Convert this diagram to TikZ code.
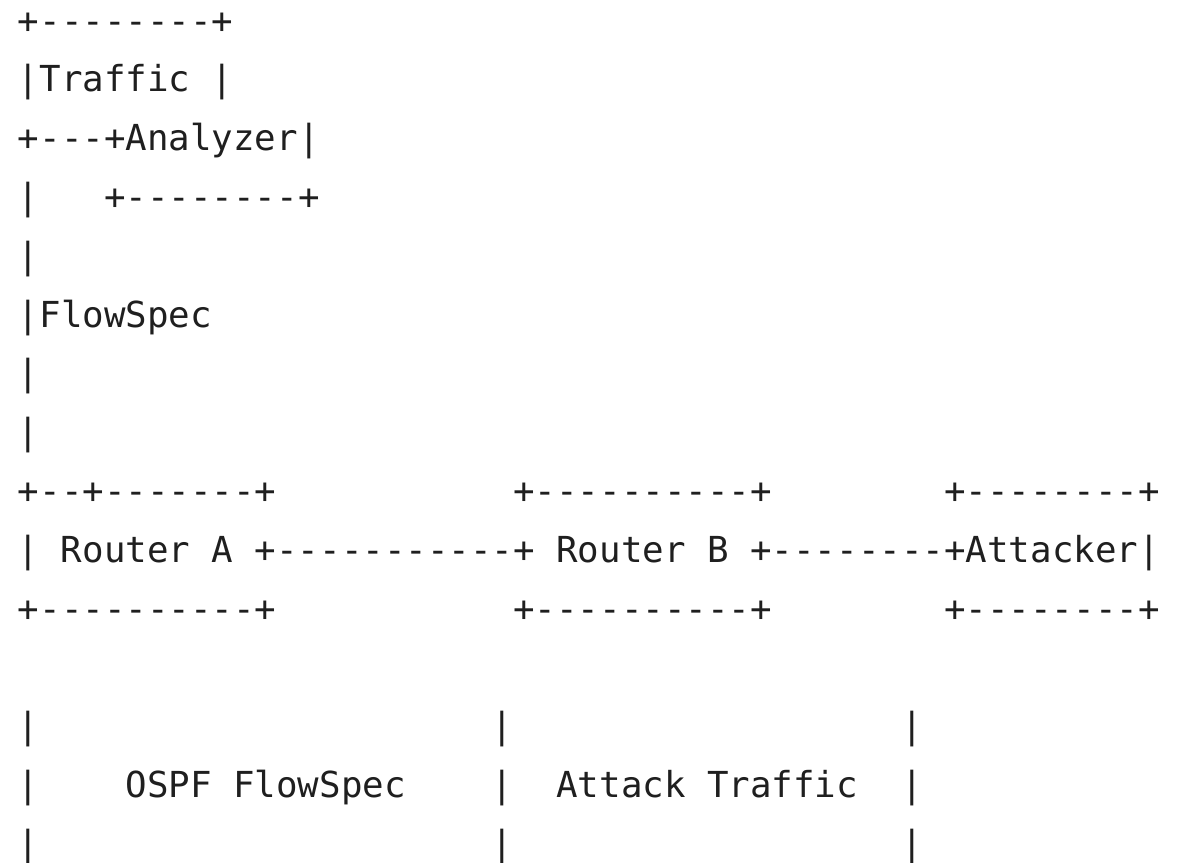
\documentclass[tikz,border=0pt]{standalone}
\usepackage{fontspec}
\setmonofont{DejaVu Sans Mono}
\usepackage{tikz}

\begin{document}
\begin{tikzpicture}[
    x=10.77pt, y=-29.4pt,
    ascii/.style={font=\ttfamily\fontsize{17.9}{20}\selectfont, anchor=base west, inner sep=0pt, text=black!88}
]
\useasboundingbox (-0.8125,0.4388) rectangle (54.108,15.099);
% traffic analyzer box
\node[ascii] (ta-top) at (0,1) {+--------+};
\node[ascii] (ta-name) at (0,2) {|Traffic};
\node[ascii] (ta-right) at (9,2) {|};
\node[ascii] (ta-mid) at (0,3) {+---+Analyzer|};
\node[ascii] (ta-link) at (0,4) {|};
\node[ascii] (ta-bot) at (4,4) {+--------+};
% flowspec feed down to router A
\node[ascii] (fs-a) at (0,5) {|};
\node[ascii] (fs-label) at (0,6) {|FlowSpec};
\node[ascii] (fs-b) at (0,7) {|};
\node[ascii] (fs-c) at (0,8) {|};
% routers and attacker
\node[ascii] (ra-top) at (0,9) {+--+-------+};
\node[ascii] (rb-top) at (23,9) {+----------+};
\node[ascii] (at-top) at (43,9) {+--------+};
\node[ascii] (ra-left) at (0,10) {|};
\node[ascii] (ra-word) at (2,10) {Router};
\node[ascii] (ra-letter) at (9,10) {A};
\node[ascii] (ab-link) at (11,10) {+-----------+};
\node[ascii] (rb-word) at (25,10) {Router};
\node[ascii] (rb-letter) at (32,10) {B};
\node[ascii] (bt-link) at (34,10) {+--------+Attacker|};
\node[ascii] (ra-bot) at (0,11) {+----------+};
\node[ascii] (rb-bot) at (23,11) {+----------+};
\node[ascii] (at-bot) at (43,11) {+--------+};
% legend columns
\foreach \r in {13,14,15} {
  \node[ascii] (lg-a\r) at (0,\r) {|};
  \node[ascii] (lg-b\r) at (22,\r) {|};
  \node[ascii] (lg-c\r) at (41,\r) {|};
}
\node[ascii] (lg-ospf) at (5,14) {OSPF};
\node[ascii] (lg-fs) at (10,14) {FlowSpec};
\node[ascii] (lg-attack) at (25,14) {Attack};
\node[ascii] (lg-traffic) at (32,14) {Traffic};
\end{tikzpicture}
\end{document}
